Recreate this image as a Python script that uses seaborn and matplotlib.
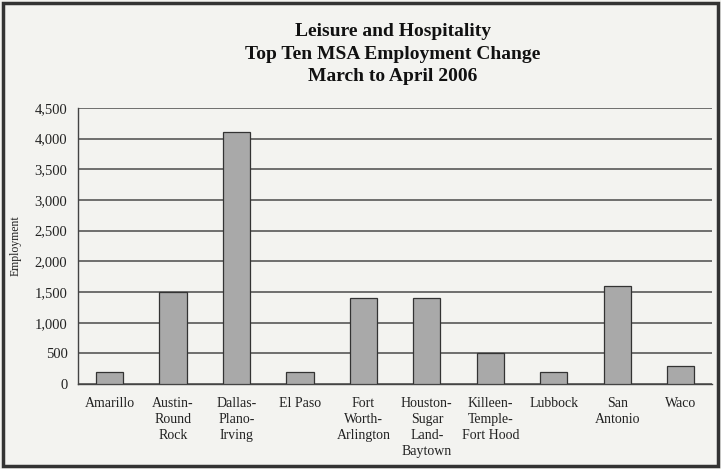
import matplotlib
matplotlib.use("Agg")
import matplotlib.pyplot as plt
import seaborn as sns
import pandas as pd
from matplotlib.ticker import FuncFormatter

msa_names = ["Amarillo", "Austin-\nRound\nRock", "Dallas-\nPlano-\nIrving", "El Paso",
             "Fort\nWorth-\nArlington", "Houston-\nSugar\nLand-\nBaytown",
             "Killeen-\nTemple-\nFort Hood", "Lubbock", "San\nAntonio", "Waco"]
employment_change = [200, 1500, 4100, 200, 1400, 1400, 500, 200, 1600, 300]

df = pd.DataFrame({"MSA": msa_names, "Employment": employment_change})

sns.set_style("white")
plt.rcParams["font.family"] = ["Liberation Serif", "DejaVu Serif"]

bg = "#f3f3f0"
fig = plt.figure(figsize=(7.21, 4.69), dpi=100, facecolor=bg)
ax = fig.add_axes([0.108, 0.181, 0.880, 0.589])
ax.set_facecolor(bg)

sns.barplot(data=df, x="MSA", y="Employment", color="#a9a9a9", width=0.43,
            edgecolor="#333333", linewidth=0.9, ax=ax, zorder=3)

ax.set_ylim(0, 4500)
ax.set_yticks(range(0, 4501, 500))
ax.yaxis.set_major_formatter(FuncFormatter(lambda v, p: f"{int(v):,}"))
ax.grid(axis="y", color="#4a4a4a", linewidth=1.1, zorder=0)
ax.set_xlim(-0.5, len(msa_names) - 0.5)

for s in ["top", "right"]:
    ax.spines[s].set_visible(False)
for s in ["left", "bottom"]:
    ax.spines[s].set_color("#444444")
    ax.spines[s].set_linewidth(1.0)

ax.set_xticks([i - 0.5 for i in range(len(msa_names) + 1)], minor=True)
ax.tick_params(axis="x", which="minor", length=4, color="#444444", direction="inout")
ax.tick_params(axis="x", which="major", length=0, pad=9, labelsize=10, colors="#222222")
ax.tick_params(axis="y", length=4, color="#444444", direction="out", labelsize=10.5, colors="#222222")
for lbl in ax.get_xticklabels():
    lbl.set_verticalalignment("top")
    lbl.set_multialignment("center")
    lbl.set_linespacing(1.3)

ax.set_xlabel("")
ax.set_ylabel("Employment", fontsize=8.5, labelpad=9, color="#222222")

fig.text(0.545, 0.932, "Leisure and Hospitality", ha="center", va="center",
         fontsize=14, fontweight="bold", color="#111111")
fig.text(0.545, 0.884, "Top Ten MSA Employment Change", ha="center", va="center",
         fontsize=14, fontweight="bold", color="#111111")
fig.text(0.545, 0.836, "March to April 2006", ha="center", va="center",
         fontsize=14, fontweight="bold", color="#111111")

fig.patches.append(plt.Rectangle((0.004, 0.006), 0.992, 0.988, transform=fig.transFigure,
                                 fill=False, edgecolor="#333333", linewidth=2.5))

fig.savefig("out.png", dpi=100, facecolor=bg)
